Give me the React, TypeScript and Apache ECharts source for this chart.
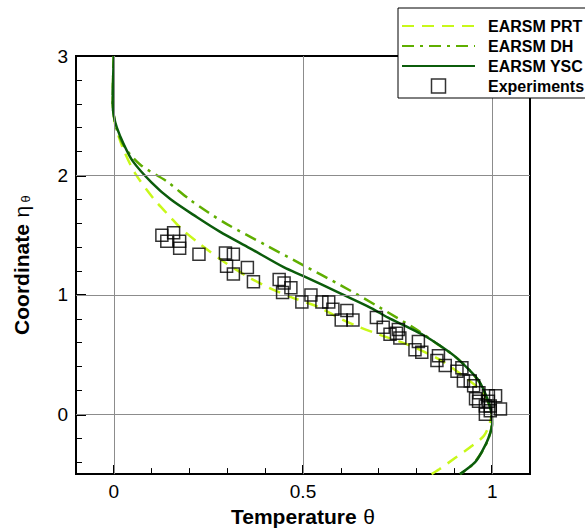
import React, { useEffect, useRef } from 'react';
import * as echarts from 'echarts';

const FONT = '"Liberation Sans", Arial, Helvetica, sans-serif';

const xMajorTicks = [0, 0.5, 1];
const xMinorTicks = [0.1, 0.2, 0.3, 0.4, 0.6, 0.7, 0.8, 0.9];
const yMajorTicks = [0, 1, 2, 3];
const yMinorTicks = [-0.4, -0.2, 0.2, 0.4, 0.6, 0.8, 1.2, 1.4, 1.6, 1.8, 2.2, 2.4, 2.6, 2.8];
const gridX = [0, 0.5, 1];
const gridY = [0, 1, 2];

const seriesNames = ['EARSM PRT', 'EARSM DH', 'EARSM YSC', 'Experiments'];

const prtCurve: number[][] = [
  [0, 3], [-0.002, 2.8], [-0.003, 2.6], [0, 2.5], [0.004, 2.42], [0.025, 2.22], [0.056, 2.02],
  [0.104, 1.81], [0.15, 1.65], [0.18, 1.55], [0.23, 1.42], [0.29, 1.28], [0.35, 1.16],
  [0.41, 1.06], [0.47, 0.98], [0.54, 0.9], [0.6, 0.8], [0.65, 0.73], [0.7, 0.67],
  [0.78, 0.58], [0.86, 0.46], [0.92, 0.33], [0.97, 0.2], [0.993, 0.08], [0.998, 0.0],
  [0.993, -0.08], [0.978, -0.18], [0.94, -0.28], [0.9, -0.37], [0.86, -0.46], [0.84, -0.5],
];

const dhCurve: number[][] = [
  [0, 3], [-0.002, 2.8], [-0.003, 2.6], [0, 2.5], [0.006, 2.4], [0.028, 2.24], [0.07, 2.09],
  [0.14, 1.95], [0.2, 1.8], [0.25, 1.69], [0.3, 1.59], [0.4, 1.42], [0.5, 1.25],
  [0.6, 1.08], [0.7, 0.9], [0.8, 0.71], [0.85, 0.6], [0.9, 0.49], [0.94, 0.37],
  [0.968, 0.26], [0.988, 0.12], [0.998, 0.0], [0.998, -0.1], [0.988, -0.22],
  [0.97, -0.33], [0.945, -0.43], [0.915, -0.5],
];

const yscCurve: number[][] = [
  [0, 3], [-0.002, 2.8], [-0.003, 2.6], [0, 2.5], [0.008, 2.4], [0.025, 2.27], [0.05, 2.12],
  [0.1, 1.94], [0.15, 1.8], [0.22, 1.65], [0.28, 1.53], [0.36, 1.39], [0.45, 1.23],
  [0.5, 1.16], [0.6, 1.01], [0.68, 0.89], [0.725, 0.81], [0.77, 0.74], [0.82, 0.66],
  [0.86, 0.58], [0.9, 0.49], [0.94, 0.37], [0.965, 0.28], [0.985, 0.15], [0.998, 0.02],
  [1.0, -0.08], [0.99, -0.2], [0.975, -0.3], [0.955, -0.4], [0.915, -0.5],
];

const experiments: number[][] = [
  [0.127, 1.5], [0.158, 1.52], [0.14, 1.45], [0.174, 1.45], [0.174, 1.39], [0.225, 1.34],
  [0.295, 1.35], [0.316, 1.34], [0.298, 1.24], [0.316, 1.175], [0.353, 1.23], [0.369, 1.11],
  [0.437, 1.13], [0.45, 1.1], [0.468, 1.06], [0.446, 1.02], [0.497, 0.94], [0.521, 1.0],
  [0.55, 0.94], [0.568, 0.94], [0.579, 0.88], [0.616, 0.87], [0.601, 0.79], [0.632, 0.79],
  [0.694, 0.81], [0.712, 0.73], [0.73, 0.67], [0.752, 0.71], [0.756, 0.64], [0.747, 0.68],
  [0.805, 0.61], [0.796, 0.54], [0.814, 0.52], [0.858, 0.49], [0.854, 0.45], [0.876, 0.41],
  [0.92, 0.39], [0.907, 0.36], [0.924, 0.28], [0.942, 0.28], [0.951, 0.24], [0.965, 0.18],
  [0.956, 0.13], [0.99, 0.155], [1.009, 0.155], [0.982, 0.07], [0.995, 0.07], [1.022, 0.045],
  [0.982, 0.0], [0.995, 0.03], [0.964, 0.11], [0.99, 0.11],
];

const colors = { prt: '#c8f81a', dh: '#5fae00', ysc: '#0b5c0b' };

export default function App() {
  const ref = useRef<HTMLDivElement>(null);
  useEffect(() => {
    if (!ref.current) return;
    const chart = echarts.init(ref.current, undefined, { renderer: 'svg' });
    const mainLine = { show: true, onZero: false, lineStyle: { color: '#000', width: 2 } };
    const noLine = { show: false, onZero: false };
    chart.setOption({
      animation: false,
      backgroundColor: '#fff',
      grid: { left: 76, right: 55, top: 56, bottom: 55, show: true, borderColor: '#000', borderWidth: 2, backgroundColor: 'transparent' },
      xAxis: [
        {
          type: 'value', min: -0.1, max: 1.1, position: 'bottom',
          axisLine: mainLine, splitLine: { show: false },
          name: '{b|Temperature}  {g|θ}',
          nameLocation: 'middle', nameGap: 30,
          nameTextStyle: {
            rich: {
              b: { fontFamily: FONT, fontSize: 21, fontWeight: 'bold', color: '#000' },
              g: { fontFamily: FONT, fontSize: 21, color: '#000' },
            },
          },
          axisTick: { show: true, inside: true, length: 9, customValues: xMajorTicks, lineStyle: { color: '#000', width: 2 } },
          axisLabel: { show: true, customValues: xMajorTicks, margin: 8, fontFamily: FONT, fontSize: 19, color: '#000' },
        },
        {
          type: 'value', min: -0.1, max: 1.1, position: 'bottom',
          axisLine: noLine, splitLine: { show: false },
          axisTick: { show: true, inside: true, length: 6, customValues: xMinorTicks, lineStyle: { color: '#000', width: 1 } },
          axisLabel: { show: false },
        },
      ],
      yAxis: [
        {
          type: 'value', min: -0.5, max: 3, position: 'left',
          axisLine: mainLine, splitLine: { show: false },
          name: '{b|Coordinate}  {g|η} {s|θ}',
          nameLocation: 'middle', nameGap: 44, nameRotate: 90,
          nameTextStyle: {
            rich: {
              b: { fontFamily: FONT, fontSize: 21, fontWeight: 'bold', color: '#000' },
              g: { fontFamily: FONT, fontSize: 21, color: '#000' },
              s: { fontFamily: FONT, fontSize: 13, color: '#000', verticalAlign: 'bottom', padding: [8, 0, 0, 0] },
            },
          },
          axisTick: { show: true, inside: true, length: 10, customValues: yMajorTicks, lineStyle: { color: '#000', width: 2 } },
          axisLabel: { show: true, customValues: yMajorTicks, margin: 8, fontFamily: FONT, fontSize: 19, color: '#000' },
        },
        {
          type: 'value', min: -0.5, max: 3, position: 'left',
          axisLine: noLine, splitLine: { show: false },
          axisTick: { show: true, inside: true, length: 6, customValues: yMinorTicks, lineStyle: { color: '#000', width: 1 } },
          axisLabel: { show: false },
        },
      ],
      legend: {
        orient: 'vertical',
        left: 398, top: 8,
        padding: [10, 12, 4, 3],
        itemWidth: 73, itemHeight: 14, itemGap: 4,
        backgroundColor: '#fff',
        borderColor: '#000', borderWidth: 1, borderRadius: 0,
        textStyle: { fontFamily: FONT, fontSize: 16, fontWeight: 'bold', color: '#000', padding: [0, 0, 0, 8] },
        data: seriesNames.map((n) => n === 'Experiments'
          ? { name: n, icon: 'path://M0 0H10V10H0Z', itemStyle: { color: 'transparent', borderColor: '#000', borderWidth: 1.5 } }
          : { name: n, itemStyle: { opacity: 0 } }),
        z: 10,
      },
      series: [
        {
          name: 'grid-lines', type: 'line', data: [], z: 1, silent: true,
          markLine: {
            silent: true, symbol: ['none', 'none'], label: { show: false },
            lineStyle: { color: '#8c8c8c', width: 1, type: 'solid' },
            data: [
              ...gridX.map((v) => ({ xAxis: v })),
              ...gridY.map((v) => ({ yAxis: v })),
            ],
          },
        },
        {
          name: seriesNames[0], type: 'line', data: prtCurve, showSymbol: false, symbol: 'none', smooth: 0.3, z: 3,
          lineStyle: { color: colors.prt, width: 2.5, type: [12, 8] }, itemStyle: { color: colors.prt },
        },
        {
          name: seriesNames[1], type: 'line', data: dhCurve, showSymbol: false, symbol: 'none', smooth: 0.3, z: 3,
          lineStyle: { color: colors.dh, width: 2.5, type: [12, 6, 3, 6] }, itemStyle: { color: colors.dh },
        },
        {
          name: seriesNames[2], type: 'line', data: yscCurve, showSymbol: false, symbol: 'none', smooth: 0.3, z: 4,
          lineStyle: { color: colors.ysc, width: 2.5, type: 'solid' }, itemStyle: { color: colors.ysc },
        },
        {
          name: seriesNames[3], type: 'scatter', data: experiments, symbol: 'rect', symbolSize: 12, z: 5,
          itemStyle: { color: 'transparent', borderColor: '#000', borderWidth: 1.5 },
        },
      ],
    });
    return () => chart.dispose();
  }, []);
  return <div ref={ref} style={{ position: 'fixed', left: 0, top: 0, width: 585, height: 532 }} />;
}
